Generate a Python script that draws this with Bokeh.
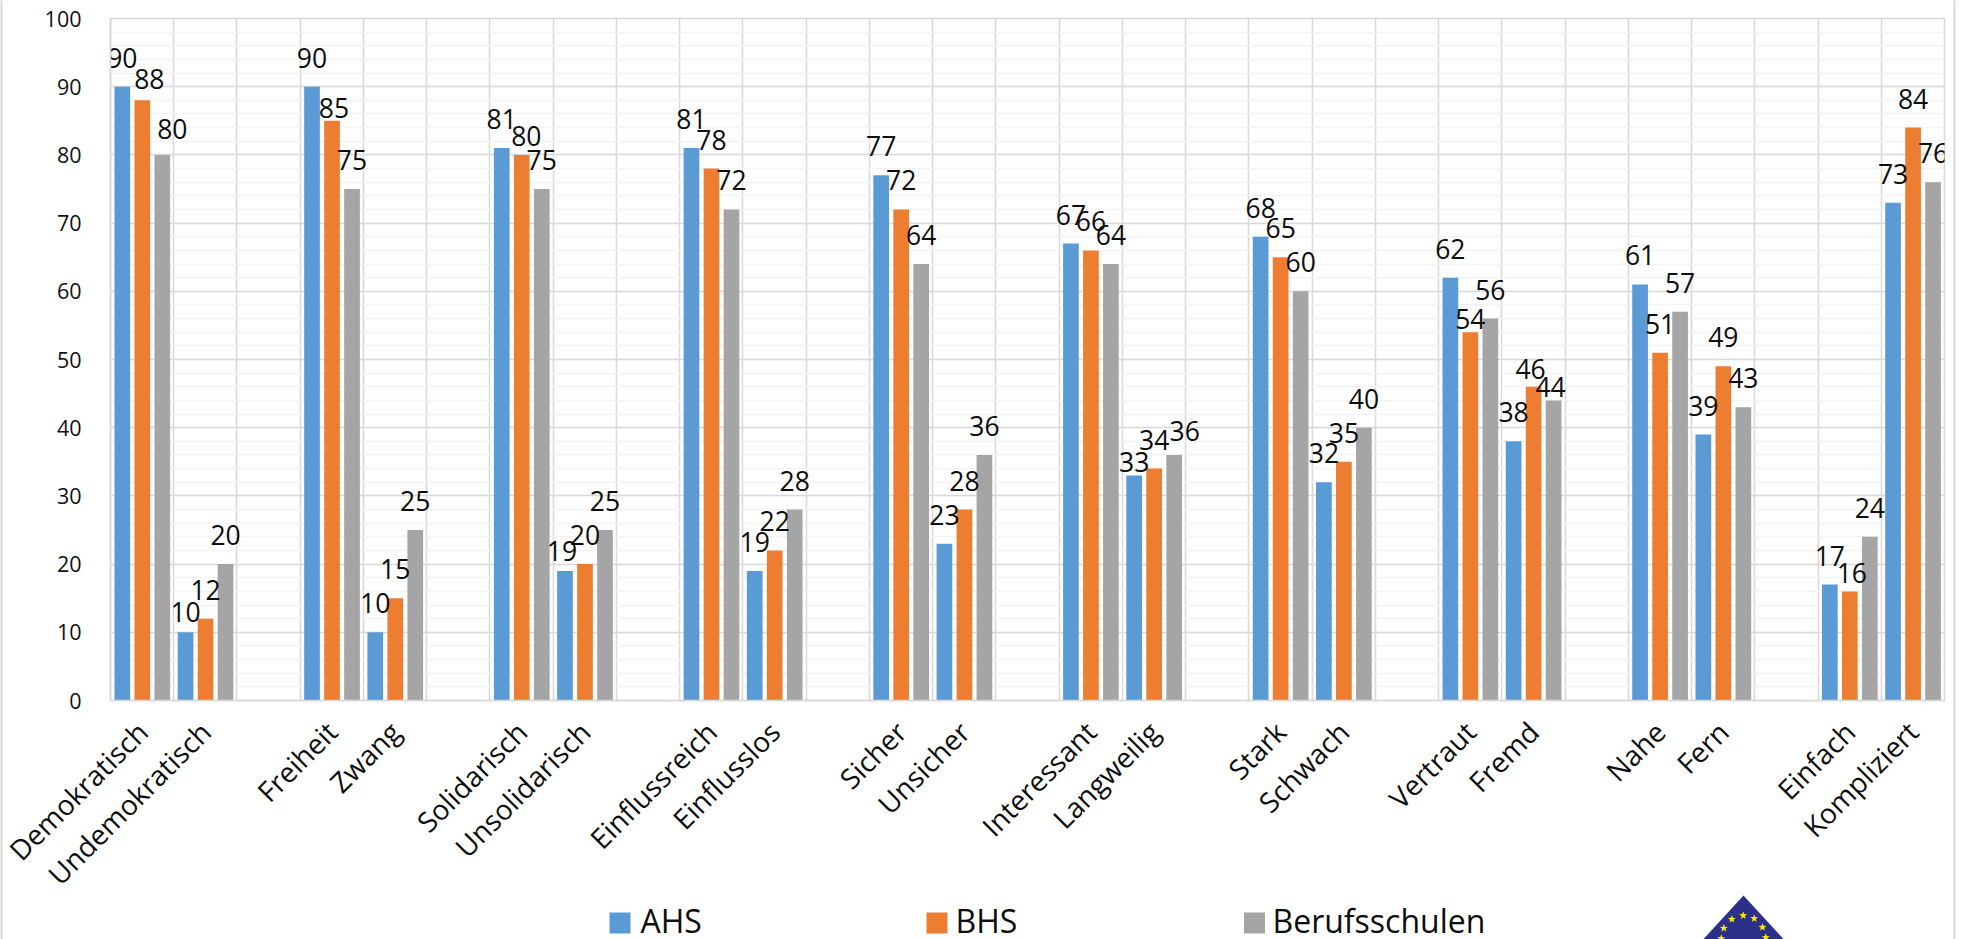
from bokeh.plotting import figure
from bokeh.models import FixedTicker, ColumnDataSource
from bokeh.core.properties import value
from bokeh.embed import file_html
from bokeh.resources import INLINE
import math

categories = ["Demokratisch", "Undemokratisch", "Freiheit", "Zwang", "Solidarisch", "Unsolidarisch",
              "Einflussreich", "Einflusslos", "Sicher", "Unsicher", "Interessant", "Langweilig",
              "Stark", "Schwach", "Vertraut", "Fremd", "Nahe", "Fern", "Einfach", "Kompliziert"]
ahs = [90, 10, 90, 10, 81, 19, 81, 19, 77, 23, 67, 33, 68, 32, 62, 38, 61, 39, 17, 73]
bhs = [88, 12, 85, 15, 80, 20, 78, 22, 72, 28, 66, 34, 65, 35, 54, 46, 51, 49, 16, 84]
berufsschulen = [80, 20, 75, 25, 75, 25, 72, 28, 64, 36, 64, 36, 60, 40, 56, 44, 57, 43, 24, 76]
series_names = ["AHS", "BHS", "Berufsschulen"]
colors = ["#5B9BD5", "#ED7D31", "#A5A5A5"]
y_ticks = list(range(0, 101, 10))

# hand-placed label nudges (px from default), keyed by category index
ahs_nudge = {1: (0, 8.5), 5: (-3, 9), 11: (0, 16)}
bhs_nudge = {0: (7, 7.4), 2: (2, 16), 4: (4.6, 10), 14: (0, 16), 15: (-3, 11), 18: (2, 11)}
beruf_nudge = {0: (10, 3), 11: (10.5, 5.5), 15: (-3, 16)}

W, H = 1969, 939
F_L, F_R, F_T, F_B = 110, 1944, 18, 700
N_SLOTS = 29
slots = [g * 3 + k for g in range(10) for k in range(2)]

p = figure(width=W, height=H, output_backend="svg", toolbar_location=None,
           x_range=(0, N_SLOTS), y_range=(0, 100),
           min_border_left=F_L, min_border_right=W - F_R, min_border_top=F_T,
           min_border_bottom=H - F_B, background_fill_color="white", border_fill_color="white")

# px -> data, for decorations outside the frame
def xd(px):
    return (px - F_L) / (F_R - F_L) * N_SLOTS
def yd(px):
    return (F_B - px) / (F_B - F_T) * 100

GRID = "#d9d9d9"
p.xgrid.ticker = FixedTicker(ticks=list(range(N_SLOTS + 1)))
p.xgrid.grid_line_color = GRID
p.xgrid.grid_line_width = 1.6
p.ygrid.ticker = FixedTicker(ticks=y_ticks, minor_ticks=list(range(0, 101, 2)))
p.ygrid.grid_line_color = GRID
p.ygrid.grid_line_width = 1.6
p.ygrid.minor_grid_line_color = "#f2f2f2"
p.ygrid.minor_grid_line_width = 1.6
p.outline_line_color = GRID
p.outline_line_width = 1.6

p.yaxis.ticker = FixedTicker(ticks=y_ticks)
p.yaxis.axis_line_color = GRID
p.yaxis.axis_line_width = 1.6
p.yaxis.major_tick_line_color = None
p.yaxis.minor_tick_line_color = None
p.yaxis.major_label_standoff = 23
p.yaxis.major_label_text_font = "Open Sans"
p.yaxis.major_label_text_font_size = "21.5px"
p.yaxis.major_label_text_color = "#111111"

centers = [s + 0.5 for s in slots]
p.xaxis.ticker = FixedTicker(ticks=centers)
p.xaxis.major_label_overrides = {c: n for c, n in zip(centers, categories)}
p.xaxis.major_label_orientation = math.pi / 4
p.xaxis.axis_line_color = GRID
p.xaxis.axis_line_width = 1.6
p.xaxis.major_tick_line_color = None
p.xaxis.minor_tick_line_color = None
p.xaxis.major_label_standoff = 20
p.xaxis.major_label_text_font = "Open Sans"
p.xaxis.major_label_text_font_size = "28px"
p.xaxis.major_label_text_color = "#0d0d0d"

bar_w = 15.7 / ((F_R - F_L) / N_SLOTS)
label_sources = []
for i, (name, vals, col, nudge) in enumerate(zip(series_names, [ahs, bhs, berufsschulen], colors,
                                                  [ahs_nudge, bhs_nudge, beruf_nudge])):
    xs = [s + (11.8 + 20 * i) / 63.24 for s in slots]
    p.vbar(x=xs, top=vals, bottom=0, width=bar_w, fill_color=col, line_color=None)
    label_sources.append(ColumnDataSource(dict(
        x=xs, y=vals, t=[str(v) for v in vals],
        dx=[nudge.get(k, (0, 0))[0] for k in range(len(vals))],
        dy=[-29 + nudge.get(k, (0, 0))[1] for k in range(len(vals))])))
for src in label_sources:
    p.text(x="x", y="y", text="t", source=src, x_offset="dx", y_offset="dy",
           text_font=value("Open Sans"), text_font_size="26.5px", text_align="center",
           text_baseline="middle", text_color="#0d0d0d")

# legend row below the chart
key_px = [619.5, 936.5, 1254]
text_px = [640, 955, 1272]
for kx, col in zip(key_px, colors):
    p.patch(x=[xd(kx - 10.5), xd(kx + 10.5), xd(kx + 10.5), xd(kx - 10.5)],
            y=[yd(912), yd(912), yd(933), yd(933)], fill_color=col, line_color=None, level="annotation")
p.text(x=[xd(v) for v in text_px], y=[yd(920)] * 3, text=series_names,
       text_font=value("Open Sans"), text_font_size="32px", text_align="left",
       text_baseline="middle", text_color="#0d0d0d", level="annotation")

# page frame lines and emblem below the chart
p.segment(x0=[xd(1), xd(1954)], y0=[yd(0), yd(0)], x1=[xd(1), xd(1954)], y1=[yd(939), yd(939)],
          line_color=GRID, line_width=2, level="annotation")
p.patch(x=[xd(1743), xd(1743 + 45), xd(1743), xd(1743 - 45)],
        y=[yd(895), yd(944), yd(993), yd(944)], fill_color="#2b3088", line_color=None, level="annotation")
for sx, sy in [(1742.7, 915), (1731.3, 918.7), (1753.7, 918), (1723.3, 927.7), (1762, 926.7), (1720.7, 938), (1765.3, 937)]:
    ang = [math.pi / 2 + k * math.pi / 5 for k in range(10)]
    rad = [4.2 if k % 2 == 0 else 1.7 for k in range(10)]
    p.patch(x=[xd(sx + r * math.cos(a)) for a, r in zip(ang, rad)],
            y=[yd(sy - r * math.sin(a)) for a, r in zip(ang, rad)],
            fill_color="#ffe600", line_color=None, level="annotation")

open("out.html", "w").write(file_html(p, INLINE))
